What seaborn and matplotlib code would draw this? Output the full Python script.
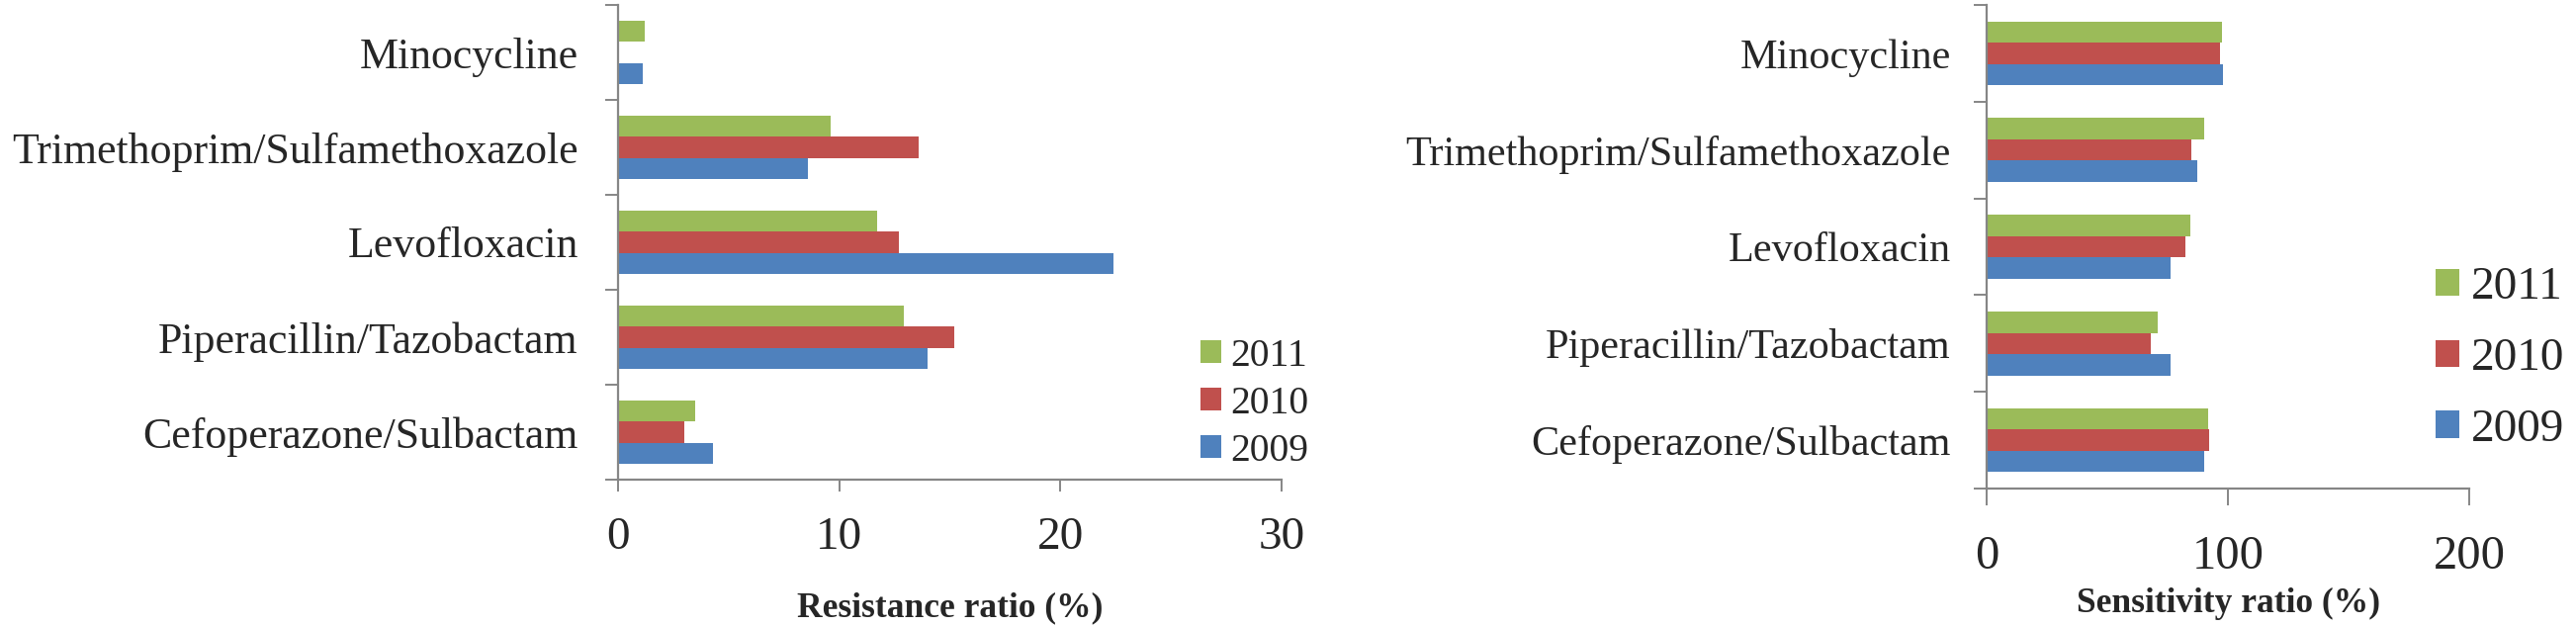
import numpy as np
import pandas as pd
import matplotlib
matplotlib.use("Agg")
import matplotlib.pyplot as plt
import seaborn as sns
from matplotlib.ticker import FixedLocator

sns.set_style("white")
plt.rcParams['font.family'] = ['Liberation Serif', 'DejaVu Serif']

drugs = ["Minocycline", "Trimethoprim/Sulfamethoxazole", "Levofloxacin",
         "Piperacillin/Tazobactam", "Cefoperazone/Sulbactam"]
years = ["2011", "2010", "2009"]
colors = ["#9BBB59", "#C0504D", "#4F81BD"]

resist_2011 = [1.2, 9.6, 11.7, 12.9, 3.5]
resist_2010 = [0.0, 13.6, 12.7, 15.2, 3.0]
resist_2009 = [1.1, 8.6, 22.4, 14.0, 4.3]

sens_2011 = [97.5, 90.3, 84.4, 70.7, 91.8]
sens_2010 = [96.8, 84.7, 82.4, 68.2, 92.4]
sens_2009 = [97.8, 87.2, 76.4, 76.2, 90.3]


def long_df(v11, v10, v09):
    rows = []
    for yr, vals in zip(years, [v11, v10, v09]):
        for d, v in zip(drugs, vals):
            rows.append({"drug": d, "year": yr, "value": v})
    return pd.DataFrame(rows)


W, H = 2605, 634
fig = plt.figure(figsize=(W / 100, H / 100), dpi=100)

def px(x0, y0, x1, y1):
    return [x0 / W, 1 - y1 / H, (x1 - x0) / W, (y1 - y0) / H]

ax1 = fig.add_axes(px(625, 5, 1296, 485))
ax2 = fig.add_axes(px(2009, 5, 2497, 494))

spine_c = "#868686"

def style(ax, df, xmax, xticks, xlabel, tickfs, ylabfs, ylabpad, xpad, xlabfs, xlabpad,
          leg_fs, leg_anchor, hsize, labsp, xtick_len):
    sns.barplot(data=df, y="drug", x="value", hue="year", order=drugs,
                hue_order=years, palette=colors, orient="h", width=0.66,
                saturation=1, linewidth=0, errorbar=None, ax=ax)
    ax.set_xlim(0, xmax)
    ax.set_ylim(4.5, -0.5)
    ax.set_xticks(xticks)
    ax.set_xticklabels([str(t) for t in xticks], fontsize=tickfs)
    ax.yaxis.set_minor_locator(FixedLocator(np.arange(-0.5, 5, 1.0)))
    ax.tick_params(axis="y", which="major", length=0, pad=ylabpad, labelsize=ylabfs)
    ax.tick_params(axis="y", which="minor", length=9.5, width=1.4, color=spine_c, left=True)
    ax.tick_params(axis="x", which="major", length=xtick_len, width=1.4, color=spine_c,
                   bottom=True, pad=xpad, direction="out")
    for s in ["top", "right"]:
        ax.spines[s].set_visible(False)
    for s in ["left", "bottom"]:
        ax.spines[s].set_color(spine_c)
        ax.spines[s].set_linewidth(1.6)
    ax.set_ylabel("")
    ax.set_xlabel(xlabel, fontsize=xlabfs, fontweight="bold", labelpad=xlabpad)
    h, l = ax.get_legend_handles_labels()
    ax.legend(h, l, loc="center left", bbox_to_anchor=leg_anchor, frameon=False,
              fontsize=leg_fs, handlelength=hsize, handleheight=hsize,
              handletextpad=0.25, labelspacing=labsp, borderpad=0, borderaxespad=0)

style(ax1, long_df(resist_2011, resist_2010, resist_2009), 30, [0, 10, 20, 30],
      "Resistance ratio (%)", 34, 31.6, 29, 18, 25.5, 24,
      28.5, (0.878, 0.16), 0.52, 0.28, 8.7)
style(ax2, long_df(sens_2011, sens_2010, sens_2009), 200, [0, 100, 200],
      "Sensitivity ratio (%)", 35, 30.4, 26, 22, 25.5, 6,
      34, (0.930, 0.268), 0.52, 0.62, 12)

fig.savefig("out.png", dpi=100)
